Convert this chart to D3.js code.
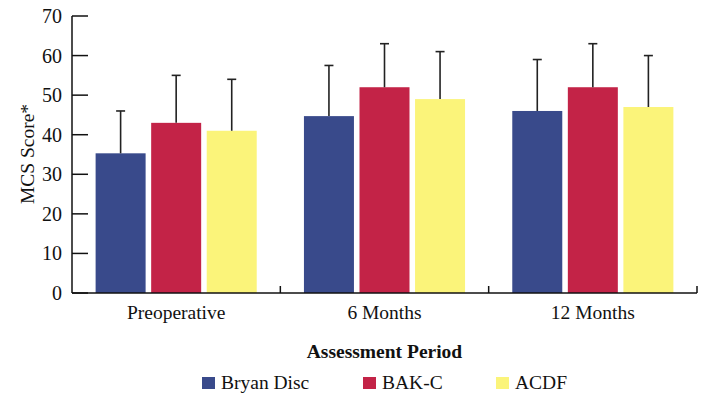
<!DOCTYPE html>
<html>
<head>
<meta charset="utf-8">
<script src="https://cdn.jsdelivr.net/npm/d3@7"></script>
<style>
  body { margin: 0; background: #fff; }
  svg text { font-family: "Liberation Serif", "Times New Roman", serif; fill: #111; }
</style>
</head>
<body>
<div id="viz"></div>
<script>
// MCS score by assessment period, three treatment groups
var periods = ["Preoperative", "6 Months", "12 Months"];
var groups = ["Bryan Disc", "BAK-C", "ACDF"];
var colors = ["#394a8b", "#c32347", "#fbf47a"];

// means and standard deviations (only the upper whisker is drawn)
var bryanMean = [35.3, 44.7, 46];
var bryanSd = [10.7, 12.8, 13];
var bakMean = [43, 52, 52];
var bakSd = [12, 11, 11];
var acdfMean = [41, 49, 47];
var acdfSd = [13, 12, 13];

var yTicks = [0, 10, 20, 30, 40, 50, 60, 70];

var means = [bryanMean, bakMean, acdfMean];
var sds = [bryanSd, bakSd, acdfSd];

var W = 704, H = 393;
var plotLeft = 72, plotRight = 697, plotTop = 16, plotBottom = 293;

var svg = d3.select("#viz")
    .append("svg")
    .attr("width", W)
    .attr("height", H);

var x0 = d3.scaleBand().domain(periods).range([plotLeft, plotRight]).paddingInner(0).paddingOuter(0);
var x1 = d3.scaleBand().domain(groups).range([0, x0.bandwidth()]).paddingInner(0.1).paddingOuter(0.425);
var y = d3.scaleLinear().domain([0, 70]).range([plotBottom, plotTop]);

// bars
var rows = [];
periods.forEach(function(p, i) {
    groups.forEach(function(g, j) {
        rows.push({period: p, group: g, k: j, mean: means[j][i], sd: sds[j][i]});
    });
});

var bars = svg.append("g").attr("id", "bars");
bars.selectAll("rect")
    .data(rows)
    .enter().append("rect")
    .attr("x", function(d) { return x0(d.period) + x1(d.group); })
    .attr("y", function(d) { return y(d.mean); })
    .attr("width", x1.bandwidth())
    .attr("height", function(d) { return y(0) - y(d.mean); })
    .attr("fill", function(d) { return colors[d.k]; });

// error bars
var err = svg.append("g").attr("id", "errors")
    .attr("stroke", "#222").attr("stroke-width", 1.6);
rows.forEach(function(d) {
    var cx = x0(d.period) + x1(d.group) + x1.bandwidth() / 2;
    err.append("line")
        .attr("x1", cx).attr("x2", cx)
        .attr("y1", y(d.mean)).attr("y2", y(d.mean + d.sd));
    err.append("line")
        .attr("x1", cx - 4.5).attr("x2", cx + 4.5)
        .attr("y1", y(d.mean + d.sd)).attr("y2", y(d.mean + d.sd));
});

// y axis, ticks point inward
var yAxis = svg.append("g").attr("id", "yaxis");
yAxis.append("line")
    .attr("x1", plotLeft).attr("x2", plotLeft)
    .attr("y1", y(70)).attr("y2", y(0))
    .attr("stroke", "#111").attr("stroke-width", 1.5);
yAxis.selectAll("line.tick")
    .data(yTicks)
    .enter().append("line")
    .attr("class", "tick")
    .attr("x1", plotLeft).attr("x2", plotLeft + 16)
    .attr("y1", function(d) { return y(d); })
    .attr("y2", function(d) { return y(d); })
    .attr("stroke", "#111").attr("stroke-width", 1.5);
yAxis.selectAll("text")
    .data(yTicks)
    .enter().append("text")
    .attr("x", plotLeft - 10)
    .attr("y", function(d) { return y(d) + 7; })
    .attr("text-anchor", "end")
    .attr("font-size", 20)
    .text(function(d) { return d; });

// x axis
var xAxis = svg.append("g").attr("id", "xaxis");
xAxis.append("line")
    .attr("x1", plotLeft).attr("x2", plotRight)
    .attr("y1", y(0)).attr("y2", y(0))
    .attr("stroke", "#111").attr("stroke-width", 1.5);
xAxis.selectAll("line.tick")
    .data(periods)
    .enter().append("line")
    .attr("class", "tick")
    .attr("x1", function(d) { return x0(d) + x0.bandwidth(); })
    .attr("x2", function(d) { return x0(d) + x0.bandwidth(); })
    .attr("y1", y(0)).attr("y2", y(0) - 7)
    .attr("stroke", "#111").attr("stroke-width", 1.5);
xAxis.selectAll("text")
    .data(periods)
    .enter().append("text")
    .attr("x", function(d) { return x0(d) + x0.bandwidth() / 2; })
    .attr("y", 319)
    .attr("text-anchor", "middle")
    .attr("font-size", 19.5)
    .text(function(d) { return d; });

// axis titles
svg.append("text")
    .attr("x", (plotLeft + plotRight) / 2)
    .attr("y", 358)
    .attr("text-anchor", "middle")
    .attr("font-size", 19.5)
    .attr("font-weight", "bold")
    .text("Assessment Period");

svg.append("text")
    .attr("transform", "translate(34,154) rotate(-90)")
    .attr("text-anchor", "middle")
    .attr("font-size", 19.5)
    .text("MCS Score*");

// legend
var legendX = [202, 363, 496];
var legend = svg.append("g").attr("id", "legend");
groups.forEach(function(g, j) {
    legend.append("rect")
        .attr("x", legendX[j]).attr("y", 377)
        .attr("width", 13).attr("height", 12)
        .attr("fill", colors[j]);
    legend.append("text")
        .attr("x", legendX[j] + 19).attr("y", 389)
        .attr("font-size", 19.5)
        .text(g);
});
</script>
</body>
</html>
